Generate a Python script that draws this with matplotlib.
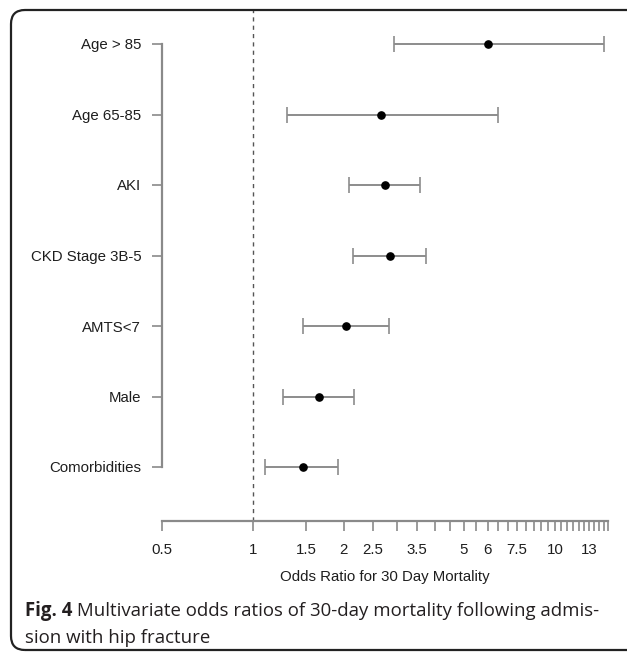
import matplotlib
matplotlib.use("Agg")
import matplotlib.pyplot as plt
from matplotlib.patches import FancyBboxPatch
import numpy as np

# ---- data ----
categories = ["Age > 85", "Age 65-85", "AKI", "CKD Stage 3B-5", "AMTS<7", "Male", "Comorbidities"]
odds_ratio = [6.0, 2.65, 2.73, 2.85, 2.04, 1.65, 1.46]
ci_low = [2.93, 1.30, 2.08, 2.15, 1.46, 1.26, 1.10]
ci_high = [14.6, 6.48, 3.57, 3.75, 2.83, 2.17, 1.92]
tick_values = list(np.arange(0.5, 15.01, 0.5))
labelled_ticks = [0.5, 1, 1.5, 2, 2.5, 3.5, 5, 6, 7.5, 10, 13]
x_label = "Odds Ratio for 30 Day Mortality"
caption_bold = "Fig. 4"
caption_rest_line1 = " Multivariate odds ratios of 30-day mortality following admis-"
caption_line2 = "sion with hip fracture"

W, H = 627, 655
fig = plt.figure(figsize=(W / 100, H / 100), dpi=100)
fig.patch.set_facecolor("white")

# axes region in pixels
left_px, right_px, top_px, bottom_px = 162, 608, 10, 521
ax = fig.add_axes([left_px / W, (H - bottom_px) / H, (right_px - left_px) / W, (bottom_px - top_px) / H])
ax.set_xscale("log")
ax.set_xlim(0.5, 15)
n = len(categories)
ypos = np.arange(n, 0, -1)
unit = (467 - 44) / (n - 1)
ax.set_ylim(1 - (bottom_px - 467) / unit, n + (44 - top_px) / unit)

axis_col = "#8a8a8a"
err_col = "#8c8c8c"
txt_col = "#1e1e1e"

ax.axvline(1, color="#555555", lw=1.0, ls=(0, (3, 3)), zorder=1)

xerr = [np.array(odds_ratio) - np.array(ci_low), np.array(ci_high) - np.array(odds_ratio)]
ax.errorbar(odds_ratio, ypos, xerr=xerr, fmt="none", ecolor=err_col, elinewidth=1.4,
            capsize=6, capthick=1.2, zorder=2)
ax.plot(odds_ratio, ypos, "o", color="black", ms=5.2, zorder=3)

for s in ["top", "right"]:
    ax.spines[s].set_visible(False)
ax.spines["left"].set_bounds(1, n)
ax.spines["bottom"].set_bounds(0.5, 15)
for s in ["left", "bottom"]:
    ax.spines[s].set_color(axis_col)
    ax.spines[s].set_linewidth(1.6)

lab_size = 10.8
ax.set_yticks(ypos)
ax.set_yticklabels(categories, fontsize=lab_size, family="Liberation Sans", color=txt_col)
ax.tick_params(axis="y", length=7, width=1.2, color=axis_col, pad=8)

ax.xaxis.set_minor_locator(matplotlib.ticker.NullLocator())
ax.set_xticks(tick_values)
ax.set_xticklabels([(f"{v:g}" if v in labelled_ticks else "") for v in tick_values],
                   fontsize=lab_size, family="Liberation Sans", color=txt_col)
ax.tick_params(axis="x", length=7, width=1.2, color=axis_col, pad=9)
ax.set_xlabel(x_label, fontsize=lab_size, family="Liberation Sans", color=txt_col, labelpad=9)

# frame
fig.patches.append(FancyBboxPatch((0.11, 0.05), 6.5, 6.40,
                                  boxstyle="round,pad=0,rounding_size=0.14",
                                  transform=fig.dpi_scale_trans, fill=False,
                                  ec="#222222", lw=1.6))

# caption
cap_size = 13.4
cap_font = "Open Sans"
t1 = fig.text(25 / W, 1 - 611 / H, caption_bold, fontsize=cap_size, family=cap_font,
              weight="bold", va="center", ha="left", color="#231f20")
fig.canvas.draw()
bb = t1.get_window_extent(renderer=fig.canvas.get_renderer())
fig.text(bb.x1 / W, 1 - 611 / H, caption_rest_line1, fontsize=cap_size, family=cap_font,
         va="center", ha="left", color="#231f20")
fig.text(25 / W, 1 - 638 / H, caption_line2, fontsize=cap_size, family=cap_font,
         va="center", ha="left", color="#231f20")

fig.savefig("out.png", dpi=100, facecolor="white")
